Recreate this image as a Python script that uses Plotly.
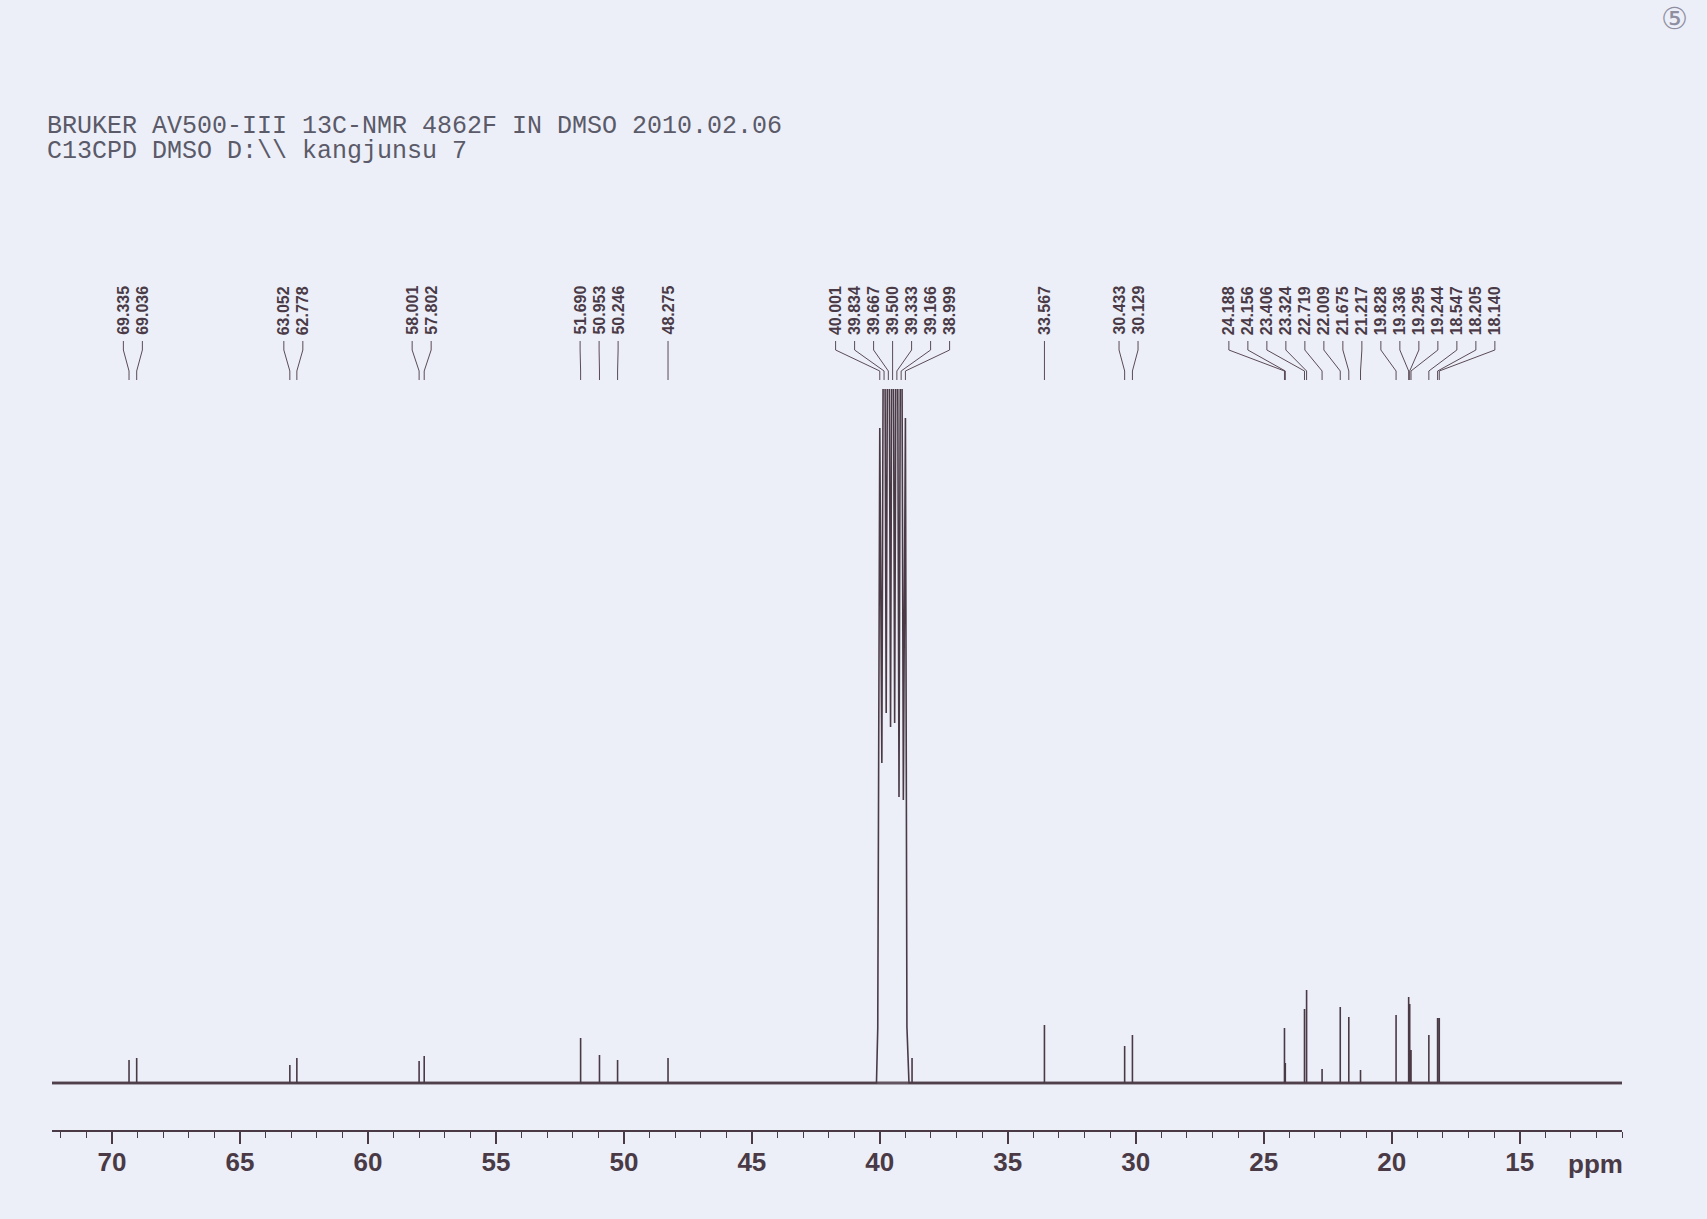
import plotly.graph_objects as go

# ---- data ----
header_lines = [
    "BRUKER AV500-III 13C-NMR 4862F IN DMSO 2010.02.06",
    "C13CPD DMSO D:\\\\ kangjunsu 7",
]

# compound signals (ppm, height above baseline)
sample_ppm = [69.335, 69.036, 63.052, 62.778, 58.001, 57.802, 51.690, 50.953,
              50.246, 48.275, 33.567, 30.433, 30.129, 24.188, 24.156, 23.406,
              23.324, 22.719, 22.009, 21.675, 21.217, 19.828, 19.336, 19.295,
              19.244, 18.547, 18.205, 18.140]
sample_height = [23, 25, 18, 25, 22, 27, 45, 28,
                 23, 25, 58, 37, 48, 55, 20, 74,
                 93, 14, 76, 66, 13, 68, 86, 79,
                 33, 48, 65, 65]

# DMSO-d6 septet (off scale at the top of the plot)
dmso_ppm = [40.001, 39.834, 39.667, 39.500, 39.333, 39.166, 38.999]
dmso_height = [655, 1000, 1000, 1000, 1000, 1000, 665]
# feet and valleys of the septet
dmso_trough_ppm = [40.13, 40.08, 39.92, 39.75, 39.58, 39.42, 39.25, 39.08, 38.94, 38.86]
dmso_trough_height = [0, 55, 320, 370, 356, 360, 286, 283, 56, 0]

# small unlabelled signal
minor_ppm = [38.74]
minor_height = [25]

x_major_ticks = [70, 65, 60, 55, 50, 45, 40, 35, 30, 25, 20, 15]

# ---- layout constants ----
W, H = 1707, 1219
PLOT_L, PLOT_R, PLOT_T, PLOT_B = 52, 1622, 389, 1130
X_LEFT, X_RIGHT = 72.345, 11.0
Y_LOW, Y_HIGH = -47, 694
INK = "#4a3a46"
BG = "#eceff8"
LABEL_GAP = 19  # px between neighbouring peak labels


def ppm_to_px(p):
    return PLOT_L + (X_LEFT - p) / (X_LEFT - X_RIGHT) * (PLOT_R - PLOT_L)


def px_to_ppm(px):
    return X_LEFT - (px - PLOT_L) / (PLOT_R - PLOT_L) * (X_LEFT - X_RIGHT)


def paper_x(px):
    return (px - PLOT_L) / (PLOT_R - PLOT_L)


def paper_y(py):
    return (PLOT_B - py) / (PLOT_B - PLOT_T)


# ---- spectrum trace ----
events = []
for p, h in zip(sample_ppm, sample_height):
    events.append((p, [(p, 0), (p, h), (p, 0)]))
for p, h in zip(minor_ppm, minor_height):
    events.append((p, [(p, 0), (p, h), (p, 0)]))
for p, h in zip(dmso_ppm, dmso_height):
    events.append((p, [(p, h)]))
for p, h in zip(dmso_trough_ppm, dmso_trough_height):
    events.append((p, [(p, h)]))
events.sort(key=lambda e: -e[0])

xs, ys = [X_LEFT], [0]
for _, pts in events:
    for x, y in pts:
        xs.append(x)
        ys.append(y)
xs.append(X_RIGHT)
ys.append(0)

fig = go.Figure()
# baseline band (the noisy baseline of the printout)
fig.add_trace(go.Scatter(
    x=[X_LEFT, X_RIGHT], y=[0, 0], mode="lines",
    line=dict(color=INK, width=3.2),
    opacity=0.85, hoverinfo="skip", showlegend=False
))
fig.add_trace(go.Scatter(
    x=xs, y=ys, mode="lines",
    line=dict(color=INK, width=1.6),
    hoverinfo="skip", showlegend=False
))

# ---- peak labels, spread like the spectrometer printout ----
all_peaks = sorted(sample_ppm + dmso_ppm, reverse=True)
peak_px = [ppm_to_px(p) for p in all_peaks]
clusters = [[i] for i in range(len(peak_px))]


def cluster_span(c):
    centre = (peak_px[c[0]] + peak_px[c[-1]]) / 2
    half = (len(c) - 1) * LABEL_GAP / 2
    return centre - half, centre + half


merged = True
while merged:
    merged = False
    for k in range(len(clusters) - 1):
        a_lo, a_hi = cluster_span(clusters[k])
        b_lo, b_hi = cluster_span(clusters[k + 1])
        if b_lo - a_hi < LABEL_GAP:
            clusters[k] = clusters[k] + clusters[k + 1]
            del clusters[k + 1]
            merged = True
            break

label_px = [0] * len(peak_px)
for c in clusters:
    lo, _ = cluster_span(c)
    for j, idx in enumerate(c):
        label_px[idx] = lo + j * LABEL_GAP

annotations = []
shapes = []
for p, lx, px in zip(all_peaks, label_px, peak_px):
    annotations.append(dict(
        x=px_to_ppm(lx), xref="x", y=paper_y(337), yref="paper",
        text=f"{p:.3f}", textangle=-90, showarrow=False,
        xanchor="center", yanchor="bottom",
        font=dict(family="Liberation Sans, Arial", size=16, color=INK, weight="bold")
    ))
    xl, xp = px_to_ppm(lx), px_to_ppm(px)
    shapes.append(dict(
        type="path", xref="x", yref="paper",
        path=(f"M {xl},{paper_y(341)} L {xl},{paper_y(350)} "
              f"L {xp},{paper_y(371)} L {xp},{paper_y(380)}"),
        line=dict(color="#5a4a56", width=1)
    ))

# header text
for line, py in zip(header_lines, [126, 151]):
    annotations.append(dict(
        x=paper_x(46), xref="paper", y=paper_y(py), yref="paper",
        text=line, showarrow=False, xanchor="left", yanchor="middle",
        borderpad=0,
        font=dict(family="Liberation Mono, Courier New", size=25, color="#5b5a68")
    ))

# axis unit
annotations.append(dict(
    x=paper_x(1595), xref="paper", y=paper_y(1164), yref="paper",
    text="ppm", showarrow=False, xanchor="center", yanchor="middle",
    font=dict(family="Liberation Sans, Arial", size=26, color=INK, weight="bold")
))

# page number pencilled in the corner
annotations.append(dict(
    x=paper_x(1674), xref="paper", y=paper_y(18), yref="paper",
    text="⑤", showarrow=False, xanchor="center", yanchor="middle",
    font=dict(family="DejaVu Sans, Noto Sans CJK SC", size=30, color="#8f8ea0")
))

fig.update_layout(
    width=W,
    height=H,
    paper_bgcolor=BG,
    plot_bgcolor=BG,
    margin=dict(l=PLOT_L, r=W - PLOT_R, t=PLOT_T, b=H - PLOT_B),
    showlegend=False,
    annotations=annotations,
    shapes=shapes,
    xaxis=dict(
        range=[X_LEFT, X_RIGHT],
        tickvals=x_major_ticks,
        ticktext=[str(t) for t in x_major_ticks],
        showline=True,
        linecolor=INK,
        linewidth=1.5,
        ticks="outside",
        ticklen=12,
        tickwidth=1.5,
        tickcolor=INK,
        ticklabelstandoff=-4,
        tickfont=dict(family="Liberation Sans, Arial", size=26, color=INK, weight="bold"),
        minor=dict(dtick=1, tick0=0, ticks="outside", ticklen=6,
                   tickwidth=1.2, tickcolor=INK, showgrid=False),
        showgrid=False,
        zeroline=False,
        fixedrange=True,
    ),
    yaxis=dict(
        range=[Y_LOW, Y_HIGH],
        visible=False,
        showgrid=False,
        zeroline=False,
        fixedrange=True,
    ),
)

fig.write_html("out.html", config={"displayModeBar": False},
               post_script="document.body.style.margin='0';")
